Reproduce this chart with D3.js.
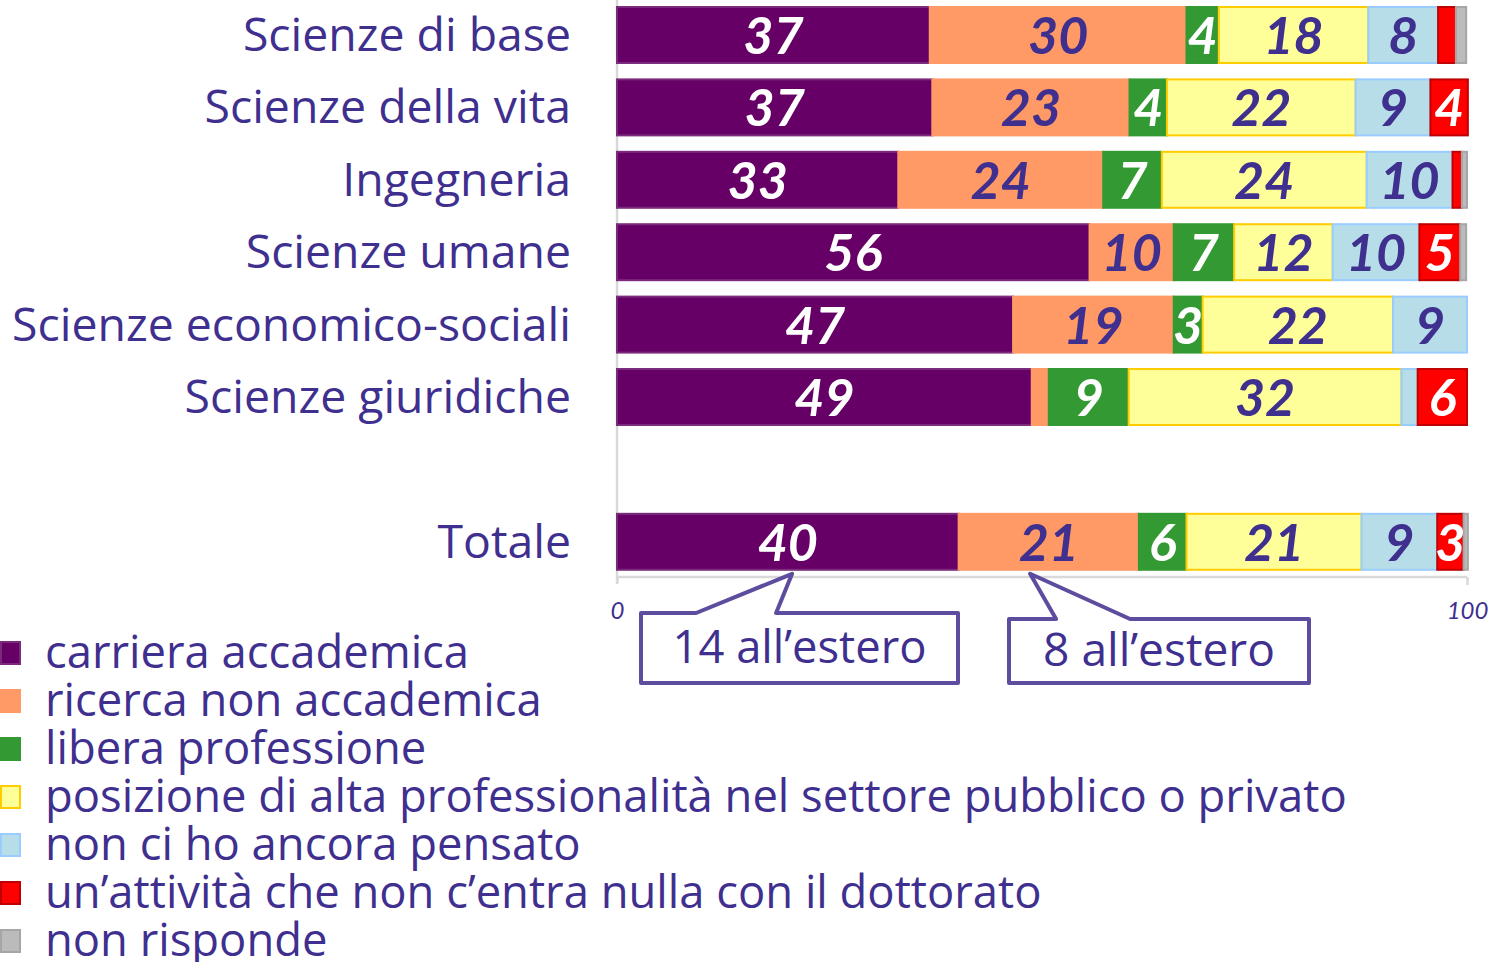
<!DOCTYPE html>
<html>
<head>
<meta charset="utf-8">
<script src="https://cdn.jsdelivr.net/npm/d3@7"></script>
<style>
  html, body { margin: 0; padding: 0; background: #ffffff; }
  svg { display: block; }
</style>
</head>
<body>
<svg id="chart" width="1491" height="962"></svg>
<script>
// ---------- DATA ----------
const categories = ["Scienze di base", "Scienze della vita", "Ingegneria", "Scienze umane",
  "Scienze economico-sociali", "Scienze giuridiche", "Totale"];
const seriesNames = ["carriera accademica", "ricerca non accademica", "libera professione",
  "posizione di alta professionalità nel settore pubblico o privato", "non ci ho ancora pensato",
  "un’attività che non c’entra nulla con il dottorato", "non risponde"];
const carrieraAccademica   = [36.8, 37.1, 33.1, 55.6, 46.6, 48.8, 40.2];
const ricercaNonAccademica = [30.2, 23.2, 24.1,  9.9, 18.9,  2.0, 21.2];
const liberaProfessione    = [ 3.8,  4.4,  6.9,  7.1,  3.4,  9.4,  5.6];
const altaProfessionalita  = [17.6, 22.2, 24.1, 11.6, 22.4, 32.1, 20.6];
const nonAncoraPensato     = [ 8.2,  8.8, 10.1, 10.2,  8.7,  1.9,  8.9];
const attivitaNonDottorato = [ 2.1,  4.4,  1.1,  4.8,  0.0,  5.8,  3.1];
const nonRisponde          = [ 1.2,  0.0,  0.6,  0.7,  0.0,  0.0,  0.5];
const tickValues = [0, 100];
const tickLabels = ["0", "100"];
const calloutTexts = ["14 all’estero", "8 all’estero"];
const calloutAnchors = [20.6, 48.6];   // anchor value (x units) on the Totale bar

// ---------- STYLE ----------
const seriesValues = [carrieraAccademica, ricercaNonAccademica, liberaProfessione,
  altaProfessionalita, nonAncoraPensato, attivitaNonDottorato, nonRisponde];
const fills   = ["#660066", "#FF9966", "#339933", "#FFFF99", "#B7DEE8", "#FF0000", "#BBBBBB"];
const strokes = ["#7a2a7a", "#FF9966", "#339933", "#FFCC00", "#99CCFF", "#C00000", "#A6A6A6"];
const labelColors = ["#ffffff", "#3F2F8F", "#ffffff", "#3F2F8F", "#3F2F8F", "#ffffff", "#3F2F8F"];
const textColor = "#3F2F8F";
const calloutColor = "#5E4C9E";
const font = "'Open Sans', Lato, 'DejaVu Sans', sans-serif";
const numFont = "Lato, 'Open Sans', sans-serif";

const svg = d3.select("#chart");

const x = d3.scaleLinear().domain([0, 100]).range([617, 1467]);
const rowKeys = [...categories.slice(0, 6), "__gap__", categories[6]];
const y = d3.scaleBand().domain(rowKeys).range([-1.2, 578]).paddingInner(0.227).paddingOuter(0.1135);

// fit text to a target width by adjusting font size (styling only)
function fitWidth(sel, target) {
  sel.each(function () {
    const t = d3.select(this);
    const w = this.getComputedTextLength();
    const fs = parseFloat(t.attr("font-size"));
    if (w > 0) t.attr("font-size", fs * target / w);
  });
}

// build stacked data
const table = categories.map((c, i) => {
  const o = { category: c };
  seriesNames.forEach((s, j) => { o[s] = seriesValues[j][i]; });
  return o;
});
const stacked = d3.stack().keys(seriesNames)(table);

// axes (light grey)
const axisG = svg.append("g").attr("transform", `translate(0,${y.range()[1] - 1})`);
const xAxis = d3.axisBottom(x).tickValues(tickValues).tickSize(8).tickFormat((d, i) => tickLabels[i]);
axisG.call(xAxis);
axisG.select(".domain").attr("stroke", "#D9D9D9").attr("stroke-width", 2.5)
  .attr("d", `M${x(0)},0H${x(100)}`);
axisG.selectAll(".tick line").attr("stroke", "#D9D9D9").attr("stroke-width", 2.5);
axisG.selectAll(".tick text").attr("fill", textColor).attr("font-family", numFont)
  .attr("font-style", "italic").attr("font-size", 24).attr("dy", 0).attr("y", 42);
axisG.select(".tick line").attr("y1", 0).attr("y2", 6);

// vertical axis line
svg.append("line").attr("x1", x(0)).attr("x2", x(0)).attr("y1", 0).attr("y2", y.range()[1] + 6)
  .attr("stroke", "#D9D9D9").attr("stroke-width", 2.5);

// bars
const layers = svg.append("g").selectAll("g").data(stacked).join("g")
  .attr("fill", (d, i) => fills[i]).attr("stroke", (d, i) => strokes[i]);
layers.selectAll("rect").data(d => d).join("rect")
  .attr("x", d => x(d[0]))
  .attr("y", d => y(d.data.category))
  .attr("width", d => Math.max(0, x(d[1]) - x(d[0])))
  .attr("height", y.bandwidth())
  .attr("stroke-width", d => (d[1] - d[0]) > 0 ? 2 : 0);

// bar labels
const labels = svg.append("g");
stacked.forEach((layer, i) => {
  labels.selectAll(null).data(layer.filter(d => d[1] - d[0] >= 2.5)).join("text")
    .attr("x", d => (x(d[0]) + x(d[1])) / 2)
    .attr("y", d => y(d.data.category) + y.bandwidth() / 2 + 19)
    .attr("text-anchor", "middle")
    .attr("fill", labelColors[i])
    .attr("font-family", numFont).attr("font-weight", "bold").attr("font-style", "italic")
    .attr("font-size", 52)
    .text(d => Math.round(d[1] - d[0]));
});

// category labels
const catText = svg.append("g").selectAll("text").data(categories).join("text")
  .attr("x", 571)
  .attr("y", d => y(d) + y.bandwidth() / 2 + 16)
  .attr("text-anchor", "end")
  .attr("fill", textColor)
  .attr("font-family", font).attr("font-size", 44)
  .text(d => d);
fitWidth(catText.filter(d => d === "Scienze economico-sociali"), 559);
const catSize = catText.filter(d => d === "Scienze economico-sociali").attr("font-size");
catText.attr("font-size", catSize);

// callouts
const totalRow = categories[6];
const tipY = y(totalRow) + y.bandwidth() + 4;
const calloutBoxes = [
  { left: 641, right: 958, top: 613, bottom: 683, baseL: -96, baseR: -16 },
  { left: 1009, right: 1309, top: 619, bottom: 683, baseL: 26, baseR: 100 }
];
const cg = svg.append("g");
calloutTexts.forEach((t, i) => {
  const b = calloutBoxes[i];
  const tx = x(calloutAnchors[i]);
  const path = d3.path();
  path.moveTo(b.left, b.top);
  path.lineTo(tx + b.baseL, b.top);
  path.lineTo(tx, tipY);
  path.lineTo(tx + b.baseR, b.top);
  path.lineTo(b.right, b.top);
  path.lineTo(b.right, b.bottom);
  path.lineTo(b.left, b.bottom);
  path.closePath();
  cg.append("path").attr("d", path.toString()).attr("fill", "#ffffff")
    .attr("stroke", calloutColor).attr("stroke-width", 4).attr("stroke-linejoin", "round");
  const tt = cg.append("text").attr("x", (b.left + b.right) / 2).attr("y", (b.top + b.bottom) / 2 + 15)
    .attr("text-anchor", "middle").attr("fill", textColor)
    .attr("font-family", font).attr("font-size", 42).text(t);
  fitWidth(tt, i === 0 ? 254 : 232);
});

// legend
const legend = svg.append("g").selectAll("g").data(seriesNames).join("g")
  .attr("transform", (d, i) => `translate(0,${668 + i * 48})`);
legend.append("rect").attr("x", 1).attr("y", -26).attr("width", 19).attr("height", 22)
  .attr("fill", (d, i) => fills[i]).attr("stroke", (d, i) => strokes[i]).attr("stroke-width", 2);
const legText = legend.append("text").attr("x", 45).attr("y", 0)
  .attr("fill", textColor).attr("font-family", font).attr("font-size", 43)
  .text(d => d);
fitWidth(legText.filter((d, i) => i === 3), 1302);
const legSize = legText.filter((d, i) => i === 3).attr("font-size");
legText.attr("font-size", legSize);
</script>
</body>
</html>
